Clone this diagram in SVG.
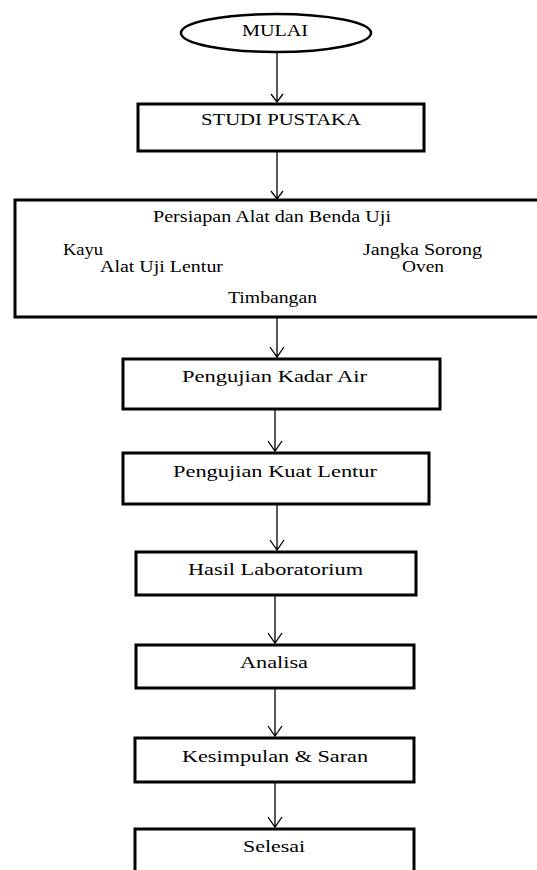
<svg xmlns="http://www.w3.org/2000/svg" width="537" height="870" viewBox="0 0 537 870">
<style>
.box{fill:#fff;stroke:#000;stroke-width:3}
.t{font-family:"Liberation Serif","Times New Roman",Times,serif;font-size:16px;fill:#000}
.c{fill:none;stroke:#000;stroke-width:1.3}
</style>
<rect width="537" height="870" fill="#fff"/>
<g id="connectors">
<path class="c" d="M277,52 V102 M271,94 L277,102 L283,94"/>
<path class="c" d="M277,152 V199 M271,191 L277,199 L283,191"/>
<path class="c" d="M277,318 V357 M270,347 L277,357 L284,347"/>
<path class="c" d="M275,410 V451 M268,441 L275,451 L282,441"/>
<path class="c" d="M277,505 V550 M270,540 L277,550 L284,540"/>
<path class="c" d="M275,596 V643 M268,633 L275,643 L282,633"/>
<path class="c" d="M275,689 V736 M268,726 L275,736 L282,726"/>
<path class="c" d="M275,783 V827 M268,817 L275,827 L282,817"/>
</g>
<g id="mulai">
<ellipse cx="276" cy="33" rx="95" ry="19" fill="#fff" stroke="#000" stroke-width="2.5"/>
<text class="t" x="242" y="36" textLength="66" lengthAdjust="spacingAndGlyphs" font-family="Liberation Serif, serif">MULAI</text>
</g>
<g id="studi">
<rect class="box" x="138" y="104" width="286" height="47"/>
<text class="t" x="201" y="125" textLength="160" lengthAdjust="spacingAndGlyphs">STUDI PUSTAKA</text>
</g>
<g id="persiapan">
<rect class="box" x="15" y="200" width="530" height="117"/>
<text class="t" x="153" y="222" textLength="238" lengthAdjust="spacingAndGlyphs">Persiapan Alat dan Benda Uji</text>
<text class="t" x="63" y="255" textLength="40" lengthAdjust="spacingAndGlyphs">Kayu</text>
<text class="t" x="363" y="255" textLength="119" lengthAdjust="spacingAndGlyphs">Jangka Sorong</text>
<text class="t" x="100" y="272" textLength="123" lengthAdjust="spacingAndGlyphs">Alat Uji Lentur</text>
<text class="t" x="402" y="272" textLength="42" lengthAdjust="spacingAndGlyphs">Oven</text>
<text class="t" x="228" y="303" textLength="89" lengthAdjust="spacingAndGlyphs">Timbangan</text>
</g>
<g id="kadar-air">
<rect class="box" x="123" y="359" width="317" height="50"/>
<text class="t" x="182" y="382" textLength="185" lengthAdjust="spacingAndGlyphs">Pengujian Kadar Air</text>
</g>
<g id="kuat-lentur">
<rect class="box" x="123" y="453" width="306" height="51"/>
<text class="t" x="173" y="477" textLength="204" lengthAdjust="spacingAndGlyphs">Pengujian Kuat Lentur</text>
</g>
<g id="hasil">
<rect class="box" x="136" y="552" width="280" height="43"/>
<text class="t" x="188" y="575" textLength="175" lengthAdjust="spacingAndGlyphs">Hasil Laboratorium</text>
</g>
<g id="analisa">
<rect class="box" x="136" y="645" width="278" height="43"/>
<text class="t" x="240" y="668" textLength="68" lengthAdjust="spacingAndGlyphs">Analisa</text>
</g>
<g id="kesimpulan">
<rect class="box" x="135" y="738" width="279" height="44"/>
<text class="t" x="182" y="762" textLength="186" lengthAdjust="spacingAndGlyphs">Kesimpulan &amp; Saran</text>
</g>
<g id="selesai">
<rect class="box" x="135" y="829" width="279" height="50"/>
<text class="t" x="243" y="852" textLength="62" lengthAdjust="spacingAndGlyphs">Selesai</text>
</g>
</svg>
